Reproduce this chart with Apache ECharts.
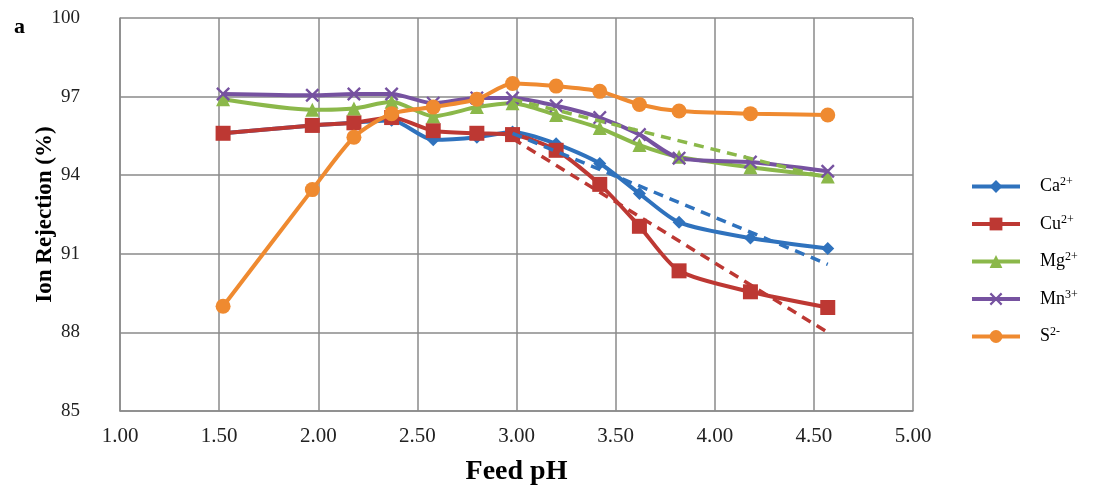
<!DOCTYPE html>
<html><head><meta charset="utf-8">
<script src="https://cdn.jsdelivr.net/npm/echarts@6/dist/echarts.min.js"></script>
<style>html,body{margin:0;padding:0;background:#fff}#c{width:1100px;height:495px}</style>
</head><body><div id="c"></div>
<script>
const pH = [1.52, 1.97, 2.18, 2.37, 2.58, 2.80, 2.98, 3.20, 3.42, 3.62, 3.82, 4.18, 4.57];
const ca = [95.6, 95.9, 96.0, 96.1, 95.35, 95.45, 95.65, 95.2, 94.45, 93.3, 92.2, 91.6, 91.2];
const cu = [95.6, 95.9, 96.0, 96.2, 95.7, 95.6, 95.55, 94.95, 93.65, 92.05, 90.35, 89.55, 88.95];
const mg = [96.9, 96.5, 96.55, 96.8, 96.25, 96.6, 96.75, 96.3, 95.8, 95.15, 94.7, 94.3, 93.95];
const mn = [97.1, 97.05, 97.1, 97.1, 96.75, 96.95, 96.95, 96.65, 96.2, 95.55, 94.65, 94.5, 94.15];
const s2 = [89.0, 93.45, 95.45, 96.35, 96.6, 96.9, 97.5, 97.4, 97.2, 96.7, 96.45, 96.35, 96.3];
const trendX = [2.98, 4.57];
const caTrend = [95.6, 90.6];
const cuTrend = [95.4, 88.0];
const mgTrend = [96.9, 93.9];
const names = ['Ca', 'Cu', 'Mg', 'Mn', 'S'];
const sups = ['2+', '2+', '2+', '3+', '2-'];
const yTicks = [85, 88, 91, 94, 97, 100];

const FONT = 'Liberation Serif';
const colors = {Ca: '#2f72bd', Cu: '#bd3833', Mg: '#8bb84a', Mn: '#7652a0', S: '#ef8a30'};
const xPath = 'path://M0,1.2 L1.2,0 L5,3.8 L8.8,0 L10,1.2 L6.2,5 L10,8.8 L8.8,10 L5,6.2 L1.2,10 L0,8.8 L3.8,5 Z';
const symbols = {Ca: 'diamond', Cu: 'rect', Mg: 'triangle', Mn: xPath, S: 'circle'};
const sizes = {Ca: 13, Cu: 15, Mg: 14, Mn: 14, S: 15};
const dataMap = {Ca: ca, Cu: cu, Mg: mg, Mn: mn, S: s2};
const pair = (xs, ys) => xs.map((x, i) => [x, ys[i]]);

const series = [];
names.forEach(n => {
  series.push({
    name: n, type: 'line', data: pair(pH, dataMap[n]), smooth: 0.25,
    symbol: symbols[n], symbolSize: sizes[n],
    lineStyle: {color: colors[n], width: 4},
    itemStyle: {color: colors[n]}, z: n === 'S' ? 3 : 2
  });
});
[['Ca', caTrend], ['Cu', cuTrend], ['Mg', mgTrend]].forEach(([n, d]) => {
  series.push({
    name: n + ' trend', type: 'line', data: pair(trendX, d), showSymbol: false,
    symbol: 'none', lineStyle: {color: colors[n], width: 3.5, type: [10, 7]}, z: 4, silent: true
  });
});

const chart = echarts.init(document.getElementById('c'));
chart.setOption({
  animation: false,
  backgroundColor: '#fff',
  title: {text: 'a', left: 9, top: 11, textStyle: {fontFamily: FONT, fontWeight: 'bold', fontSize: 22, color: '#000'}},
  grid: {left: 120, right: 187, top: 18, bottom: 84},
  xAxis: {
    type: 'value', min: 1, max: 5, interval: 0.5,
    name: 'Feed pH', nameLocation: 'middle', nameGap: 47, nameMoveOverlap: false,
    nameTextStyle: {fontFamily: FONT, fontWeight: 'bold', fontSize: 28, color: '#000'},
    axisLine: {lineStyle: {color: '#8a8a8a', width: 1.5}},
    axisTick: {show: false},
    axisLabel: {fontFamily: FONT, fontSize: 21, color: '#222', margin: 15, formatter: v => v.toFixed(2)},
    splitLine: {show: true, lineStyle: {color: '#8a8a8a', width: 1.5}}
  },
  yAxis: {
    type: 'value', min: 85, max: 100, interval: 3,
    name: 'Ion Rejection (%)', nameLocation: 'middle', nameGap: 63, nameMoveOverlap: false,
    nameTextStyle: {fontFamily: FONT, fontWeight: 'bold', fontSize: 23, color: '#000'},
    axisLine: {show: true, lineStyle: {color: '#8a8a8a', width: 1.5}},
    axisTick: {show: false},
    axisLabel: {fontFamily: FONT, fontSize: 19, color: '#222', margin: 40,
      formatter: v => yTicks.includes(v) ? String(v) : ''},
    splitLine: {show: true, lineStyle: {color: '#8a8a8a', width: 1.5}}
  },
  legend: {
    data: names, orient: 'vertical', left: 965, top: 171, itemGap: 18,
    itemWidth: 48, itemHeight: 16,
    lineStyle: {width: 4},
    formatter: name => `{b|${name}}{s|${sups[names.indexOf(name)]}}`,
    textStyle: {
      fontFamily: FONT, fontSize: 18, color: '#000',
      rich: {
        b: {fontFamily: FONT, fontSize: 18, color: '#000', padding: [0, 0, 0, 15]},
        s: {fontFamily: FONT, fontSize: 12, color: '#000', padding: [0, 0, 9, 0]}
      }
    }
  },
  series: series
});
</script></body></html>
